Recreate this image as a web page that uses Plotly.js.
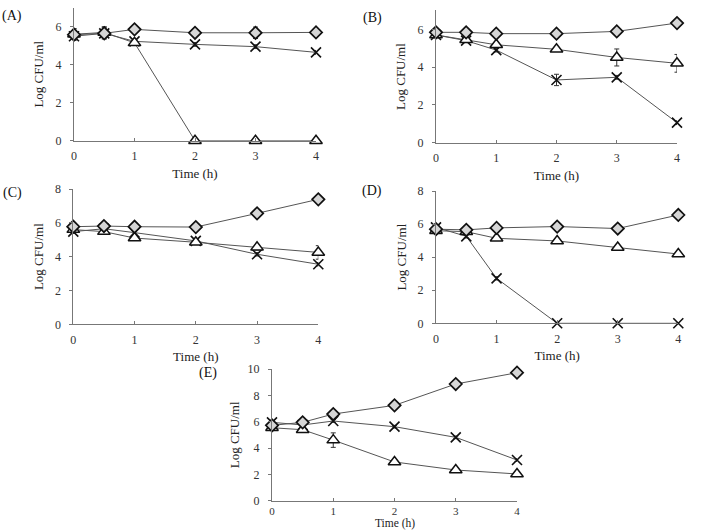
<!DOCTYPE html>
<html>
<head>
<meta charset="utf-8">
<script src="https://cdn.plot.ly/plotly-3.0.1.min.js"></script>
<style>
  html, body { margin: 0; padding: 0; background: #fff; }
  #chart { width: 706px; height: 531px; }
</style>
</head>
<body>
<div id="chart"></div>
<script>
// Sampling times (h)
const hours = [0, 0.5, 1, 2, 3, 4];
const xTicks = [0, 1, 2, 3, 4];

// Panel labels
const panelLabels = ['(A)', '(B)', '(C)', '(D)', '(E)'];
const xTitle = 'Time (h)';
const yTitle = 'Log CFU/ml';

// Log CFU/ml per panel: diamond series
const aDiamond = [5.58, 5.65, 5.86, 5.68, 5.68, 5.70];
const bDiamond = [5.84, 5.84, 5.77, 5.77, 5.89, 6.33];
const cDiamond = [5.77, 5.81, 5.77, 5.75, 6.56, 7.39];
const dDiamond = [5.69, 5.65, 5.77, 5.85, 5.73, 6.55];
const eDiamond = [5.72, 5.95, 6.58, 7.24, 8.86, 9.72];

// triangle series
const aTriangle = [5.60, 5.70, 5.15, 0, 0, 0];
const bTriangle = [5.70, 5.45, 5.18, 4.94, 4.51, 4.20];
const cTriangle = [5.60, 5.48, 5.10, 4.85, 4.55, 4.25];
const dTriangle = [5.60, 5.54, 5.14, 4.98, 4.58, 4.19];
const eTriangle = [5.54, 5.39, 4.60, 2.94, 2.33, 2.03];

// cross series
const aCross = [5.50, 5.65, 5.23, 5.07, 4.95, 4.65];
const bCross = [5.70, 5.40, 4.90, 3.32, 3.46, 1.06];
const cCross = [5.48, 5.65, 5.42, 4.93, 4.14, 3.55];
const dCross = [5.80, 5.26, 2.72, 0, 0, 0];
const eCross = [5.95, 5.75, 6.05, 5.62, 4.81, 3.09];

// standard deviations
const aDiamondErr = [0.3, 0.3, 0.15, 0.15, 0.3, 0.1];
const bDiamondErr = [0.15, 0.15, 0.1, 0.1, 0.1, 0.1];
const cDiamondErr = [0.15, 0.1, 0.1, 0.1, 0.1, 0.1];
const dDiamondErr = [0.15, 0.1, 0.1, 0.1, 0.1, 0.1];
const eDiamondErr = [0.2, 0.1, 0.15, 0.1, 0.1, 0.1];
const aTriangleErr = [0.3, 0.3, 0.1, 0, 0, 0];
const bTriangleErr = [0.1, 0.1, 0.1, 0.1, 0.45, 0.47];
const cTriangleErr = [0.1, 0.1, 0.1, 0.1, 0.15, 0.4];
const dTriangleErr = [0.1, 0.1, 0.1, 0.1, 0.1, 0.1];
const eTriangleErr = [0.1, 0.1, 0.55, 0.1, 0.1, 0.1];
const aCrossErr = [0.1, 0.1, 0.1, 0.1, 0.1, 0.1];
const bCrossErr = [0.1, 0.1, 0.1, 0.3, 0.1, 0.1];
const cCrossErr = [0.1, 0.1, 0.1, 0.1, 0.1, 0.1];
const dCrossErr = [0.1, 0.1, 0.1, 0, 0, 0];
const eCrossErr = [0.1, 0.1, 0.1, 0.1, 0.1, 0.1];

const panels = [
  { diamond: aDiamond, triangle: aTriangle, cross: aCross, dErr: aDiamondErr, tErr: aTriangleErr, cErr: aCrossErr, yMax: 7, yStep: 2 },
  { diamond: bDiamond, triangle: bTriangle, cross: bCross, dErr: bDiamondErr, tErr: bTriangleErr, cErr: bCrossErr, yMax: 7, yStep: 2 },
  { diamond: cDiamond, triangle: cTriangle, cross: cCross, dErr: cDiamondErr, tErr: cTriangleErr, cErr: cCrossErr, yMax: 8, yStep: 2 },
  { diamond: dDiamond, triangle: dTriangle, cross: dCross, dErr: dDiamondErr, tErr: dTriangleErr, cErr: dCrossErr, yMax: 8, yStep: 2 },
  { diamond: eDiamond, triangle: eTriangle, cross: eCross, dErr: eDiamondErr, tErr: eTriangleErr, cErr: eCrossErr, yMax: 10, yStep: 2 }
];

// Plot-area boxes in pixels: [left, right, top, bottom]
const W = 706, H = 531;
const boxes = [
  [74, 316, 7.7, 140.7],
  [436, 677, 10.4, 142.7],
  [73.3, 318.3, 189, 324.3],
  [436, 678.3, 191, 323.3],
  [272, 517, 369, 500.7]
];
// Panel label anchors in pixels: [x, y]
const labelPos = [[12, 16], [372, 18], [12, 193], [372, 191], [208, 373]];
// Gap between y tick labels and y title, per panel
const yTitleGap = [9, 9, 8, 8, 5];

const serif = 'Liberation Serif, Times New Roman, serif';
const lineColor = '#555';

const traces = [];
const layout = {
  width: W, height: H,
  margin: { l: 0, r: 0, t: 0, b: 0 },
  paper_bgcolor: '#fff', plot_bgcolor: '#fff',
  showlegend: false,
  font: { family: serif, size: 12, color: '#222' },
  annotations: []
};

function errObj(arr) {
  return { type: 'data', array: arr, visible: true, color: '#333', thickness: 1, width: 2.5 };
}

panels.forEach((p, i) => {
  const n = i + 1;
  const xa = n === 1 ? 'x' : 'x' + n;
  const ya = n === 1 ? 'y' : 'y' + n;
  const b = boxes[i];
  const xKey = n === 1 ? 'xaxis' : 'xaxis' + n;
  const yKey = n === 1 ? 'yaxis' : 'yaxis' + n;
  const lastPanel = i === panels.length - 1;

  layout[xKey] = {
    domain: [b[0] / W, b[1] / W],
    anchor: ya,
    range: [0, 4],
    tickvals: xTicks,
    ticks: 'inside', ticklen: 3, tickcolor: '#777',
    ticklabelstandoff: lastPanel ? 0 : 4,
    showline: true, linecolor: '#777', linewidth: 1,
    showgrid: false, zeroline: false,
    tickfont: { family: serif, size: lastPanel ? 11 : 12, color: '#333' },
    title: lastPanel ? { text: '' } :
      { text: xTitle, font: { family: serif, size: 13, color: '#222' }, standoff: 6 },
    fixedrange: true
  };
  const yTickVals = [];
  for (let v = 0; v <= p.yMax; v += p.yStep) yTickVals.push(v);
  layout[yKey] = {
    domain: [1 - b[3] / H, 1 - b[2] / H],
    anchor: xa,
    range: [0, p.yMax],
    tickvals: yTickVals,
    ticks: 'outside', ticklen: 3, tickcolor: '#777',
    ticklabelstandoff: 6,
    showline: true, linecolor: '#777', linewidth: 1,
    showgrid: false, zeroline: false,
    tickfont: { family: serif, size: 12, color: '#333' },
    title: { text: yTitle, font: { family: serif, size: 13, color: '#222' }, standoff: yTitleGap[i] },
    fixedrange: true
  };

  const common = { x: hours, xaxis: xa, yaxis: ya, mode: 'lines+markers', cliponaxis: false,
                   line: { color: lineColor, width: 1 } };

  traces.push(Object.assign({}, common, {
    y: p.cross, error_y: errObj(p.cErr),
    marker: { symbol: 'x-thin', size: 10, color: '#111', line: { color: '#111', width: 1.6 } }
  }));
  traces.push(Object.assign({}, common, {
    y: p.triangle, error_y: errObj(p.tErr),
    marker: { symbol: 'triangle-up', size: 11, color: '#fff', line: { color: '#111', width: 1.5 } }
  }));
  traces.push(Object.assign({}, common, {
    y: p.diamond, error_y: errObj(p.dErr),
    marker: { symbol: 'diamond', size: 9.5, color: '#d6d6d6', line: { color: '#111', width: 1.7 } }
  }));

  layout.annotations.push({
    text: panelLabels[i], xref: 'paper', yref: 'paper',
    x: labelPos[i][0] / W, y: 1 - labelPos[i][1] / H,
    xanchor: 'center', yanchor: 'middle', showarrow: false,
    font: { family: serif, size: 14, color: '#111' }
  });

  // Bottom panel sits at the page edge: its x title is placed directly
  if (lastPanel) {
    layout.annotations.push({
      text: xTitle, xref: 'paper', yref: 'paper',
      x: ((b[0] + b[1]) / 2) / W, y: 0,
      xanchor: 'center', yanchor: 'bottom', showarrow: false, borderpad: 0,
      font: { family: serif, size: 11.5, color: '#222' }
    });
  }
});

Plotly.newPlot('chart', traces, layout, { staticPlot: true, displayModeBar: false });
</script>
</body>
</html>
